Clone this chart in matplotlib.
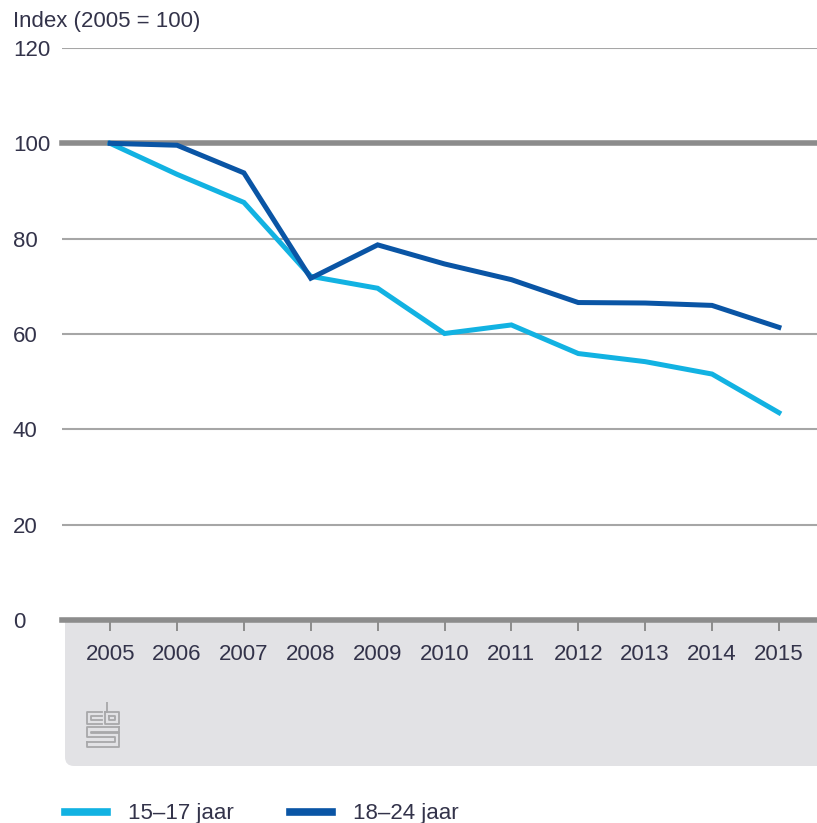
import matplotlib
matplotlib.use('Agg')
import matplotlib.pyplot as plt
from matplotlib.patches import FancyBboxPatch
from matplotlib.lines import Line2D

plt.rcParams['font.family'] = ['Liberation Sans', 'DejaVu Sans']

jaren = [2005, 2006, 2007, 2008, 2009, 2010, 2011, 2012, 2013, 2014, 2015]
jong = [100, 93.5, 87.6, 72.1, 69.6, 60.1, 61.9, 55.9, 54.2, 51.6, 43.5]    # 15-17 jaar
ouder = [100, 99.6, 93.8, 71.7, 78.7, 74.7, 71.4, 66.6, 66.5, 66.0, 61.4]   # 18-24 jaar
y_ticks = [0, 20, 40, 60, 80, 100, 120]
labels = ['15–17 jaar', '18–24 jaar']

licht = '#12b2e2'
donker = '#0a55a5'
tekst = '#33334a'
W, H = 817, 823

fig = plt.figure(figsize=(W / 100, H / 100), dpi=100)
ax = fig.add_axes([62 / W, 1 - 620 / H, 1 - 62 / W, (620 - 48) / H])

# grijze band onder de grafiek
band = FancyBboxPatch((65 / 100, (H - 766) / 100), 8.0, (766 - 610) / 100,
                      boxstyle='round,pad=0,rounding_size=0.09',
                      transform=fig.dpi_scale_trans, fc='#e2e2e5', ec='none', zorder=-1)
fig.add_artist(band)

ax.plot(jaren, jong, color=licht, lw=3.6, solid_joinstyle='miter', zorder=3)
ax.plot(jaren, ouder, color=donker, lw=3.6, solid_joinstyle='miter', zorder=4)

for v in y_ticks:
    if v in (0, 100):
        ax.axhline(v, color='#8c8c8c', lw=4.0, zorder=2, clip_on=False)
    else:
        ax.axhline(v, color='#a6a6a6', lw=1.5, zorder=1)

ax.set_xlim(2004.28, 2015.57)
ax.set_ylim(0, 120)
for s in ax.spines.values():
    s.set_visible(False)

ax.set_xticks(jaren)
ax.set_xticklabels([str(j) for j in jaren])
ax.tick_params(axis='x', direction='out', length=8, width=1.4, color='#8c8c8c',
               pad=9, labelsize=16, labelcolor=tekst)
ax.set_yticks(y_ticks)
ax.set_yticklabels([str(v) for v in y_ticks])
# pad in punten: 49 px -> 35.3 pt
ax.tick_params(axis='y', length=0, pad=35.3, labelsize=16, labelcolor=tekst)
for lab in ax.get_yticklabels():
    lab.set_horizontalalignment('left')

fig.text(13 / W, 1 - 21 / H, 'Index (2005 = 100)', fontsize=16, color=tekst,
         ha='left', va='center')

# cbs-logo
lg = fig.add_axes([86 / W, 1 - 750 / H, 34 / W, 48 / H])
lg.set_xlim(0, 10)
lg.set_ylim(0, 14)
lg.axis('off')
grijs = '#a8a8aa'
logo = [
    ([6.3, 6.3], [14, 11.2]),
    ([4.6, 0.3, 0.3, 4.6], [11.2, 11.2, 7.6, 7.6]),
    ([4.6, 1.6, 1.6, 4.6], [10.0, 10.0, 8.8, 8.8]),
    ([5.6, 9.7, 9.7, 5.6, 5.6], [11.2, 11.2, 7.6, 7.6, 11.2]),
    ([6.8, 8.5, 8.5, 6.8, 6.8], [10.0, 10.0, 8.8, 8.8, 10.0]),
    ([9.7, 0.3, 0.3, 8.4, 8.4, 0.3], [6.6, 6.6, 3.8, 3.8, 2.4, 2.4]),
    ([9.7, 9.7, 1.6, 1.6, 9.7, 9.7, 0.3, 0.3], [6.6, 5.3, 5.3, 5.1, 5.1, 1.0, 1.0, 2.4]),
]
for xs, ys in logo:
    lg.plot(xs, ys, color=grijs, lw=1.3)

handles = [Line2D([], [], color=licht, lw=5.5), Line2D([], [], color=donker, lw=5.5)]
fig.legend(handles, labels, loc='center left', bbox_to_anchor=(65 / W, 1 - 814 / H),
           ncol=2, frameon=False, fontsize=16, handlelength=1.9, handletextpad=0.95,
           columnspacing=2.5, borderpad=0, borderaxespad=0, labelcolor=tekst)

fig.savefig('out.png', dpi=100)
